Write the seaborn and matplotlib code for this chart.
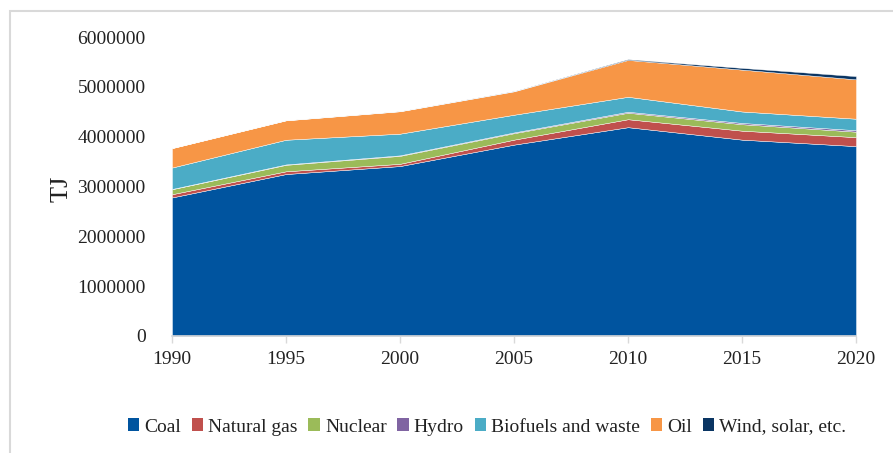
import matplotlib
matplotlib.use("Agg")
import matplotlib.pyplot as plt
import seaborn as sns
from matplotlib.patches import Rectangle, Patch
from matplotlib.font_manager import FontProperties

# data (TJ)
years = [1990, 1995, 2000, 2005, 2010, 2015, 2020]
coal = [2780000, 3250000, 3410000, 3840000, 4190000, 3940000, 3810000]
natural_gas = [65000, 55000, 45000, 100000, 160000, 180000, 180000]
nuclear = [100000, 130000, 160000, 130000, 130000, 130000, 110000]
hydro = [5000, 8000, 10000, 15000, 20000, 25000, 30000]
biofuels = [430000, 495000, 435000, 355000, 300000, 230000, 230000]
oil = [390000, 390000, 450000, 470000, 740000, 840000, 790000]
wind_solar = [0, 1000, 2000, 5000, 15000, 35000, 65000]

labels = ["Coal", "Natural gas", "Nuclear", "Hydro", "Biofuels and waste", "Oil", "Wind, solar, etc."]
colores = ["#00549F", "#C0504D", "#9BBB59", "#8064A2", "#4BACC6", "#F79646", "#0A3563"]

sns.set_theme(style="white")
plt.rcParams['font.family'] = ['Liberation Serif', 'DejaVu Serif']

fig = plt.figure(figsize=(8.93, 4.53), dpi=100)
ax = fig.add_axes([172/893, 1 - 336/453, (856 - 172)/893, (336 - 37)/453])

ax.stackplot(years, coal, natural_gas, nuclear, hydro, biofuels, oil, wind_solar,
             colors=colores, labels=labels, edgecolor='white', linewidth=0.3)

ax.set_xlim(1990, 2020)
ax.set_ylim(0, 6000000)
ax.set_xticks(years)
ax.set_yticks(range(0, 6000001, 1000000))
ax.set_yticklabels([str(v) for v in range(0, 6000001, 1000000)])
ax.tick_params(axis='x', labelsize=14, colors='#D9D9D9', labelcolor='#222222',
               length=5, width=1, pad=6, bottom=True, direction='out')
ax.tick_params(axis='y', labelsize=14, labelcolor='#222222', length=0, pad=19)

for s in ['top', 'right', 'left']:
    ax.spines[s].set_visible(False)
ax.spines['bottom'].set_color('#D9D9D9')
ax.spines['bottom'].set_linewidth(1.2)
ax.grid(False)

fig.text(62/893, 1 - 189/453, "TJ", rotation=90, fontsize=19, color='#222222',
         ha='center', va='center')

handles = [Patch(facecolor=c, edgecolor='none') for c in colores]
leg_font = FontProperties(family='Liberation Serif', size=14)
leg = fig.legend(handles, labels, loc='center', bbox_to_anchor=(487/893, 1 - 427/453),
                 ncol=7, frameon=False, prop=leg_font, handlelength=0.6, handleheight=0.6,
                 handletextpad=0.25, columnspacing=0.55, borderaxespad=0)
for t in leg.get_texts():
    t.set_color('#222222')

# chart border (light gray frame)
fig.patches.append(Rectangle((10/893, -0.05), 1.0, 1 - 11/453 + 0.05,
                             transform=fig.transFigure, fill=False,
                             edgecolor='#D9D9D9', linewidth=1.5))

fig.savefig("out.png", dpi=100)
